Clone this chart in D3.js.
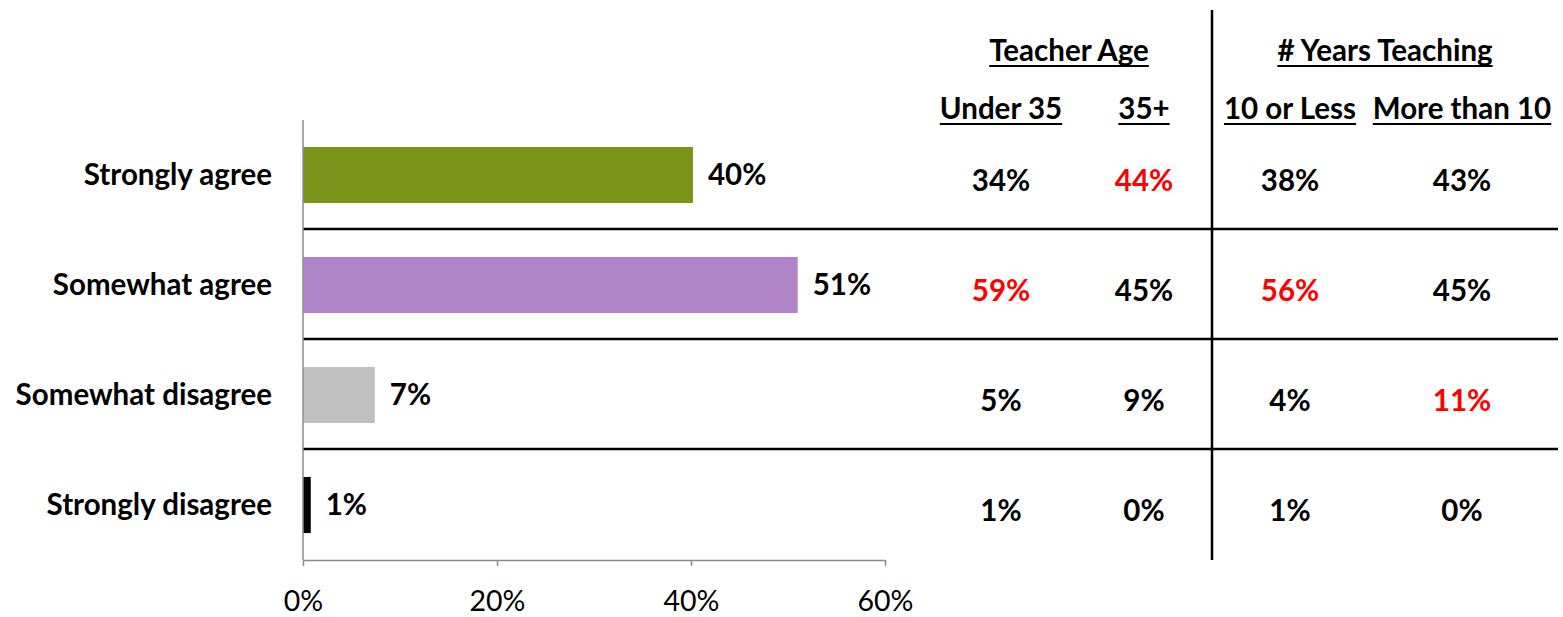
<!doctype html>
<html lang="en">
<head>
  <meta charset="utf-8">
  <title>Agreement by teacher age and years teaching</title>
  <script src="https://cdn.jsdelivr.net/npm/d3@7/dist/d3.min.js"></script>
  <style type="text/css">
    body { margin: 0; background: #fff; }
    text { font-family: "Lato", "Open Sans", sans-serif; }
    .cat, .lbl, .cell, .head { font-weight: bold; fill: #000; }
    .tick-label { fill: #000; }
  </style>
</head>
<body>
  <div id="container"></div>
<script type="text/javascript">

  // Chart data
  var categories = ["Strongly agree", "Somewhat agree", "Somewhat disagree", "Strongly disagree"];
  var values = [40.2, 51, 7.4, 0.8];
  var colors = ["#7a9318", "#b084c8", "#c0c0c0", "#000000"];
  var xTicks = [0, 20, 40, 60];

  // Table data
  var groups = ["Teacher Age", "# Years Teaching"];
  var columns = ["Under 35", "35+", "10 or Less", "More than 10"];
  var under35 = [34, 59, 5, 1];
  var over35 = [44, 45, 9, 0];
  var tenOrLess = [38, 56, 4, 1];
  var moreThan10 = [43, 45, 11, 0];
  // cells shown in red, one row per category
  var highlight = [
    [false, true, false, false],
    [true, false, true, false],
    [false, false, false, true],
    [false, false, false, false]
  ];

  var width = 1563, height = 617;
  var fs = "29.5px";

  var svg = d3.select("#container")
    .append("svg")
    .attr("width", width)
    .attr("height", height);

  var x = d3.scaleLinear().domain([0, 60]).range([303, 885]);
  var y = d3.scaleBand().domain(categories).range([120, 560]).paddingInner(0.49).paddingOuter(0.245);
  var rows = d3.scaleBand().domain(categories).range([120, 560]);

  // Row separator lines
  svg.selectAll(".sep")
    .data(categories.slice(1))
    .enter()
    .append("line")
    .attr("x1", 303).attr("x2", 1558)
    .attr("y1", function(d) { return rows(d) - 1; })
    .attr("y2", function(d) { return rows(d) - 1; })
    .attr("stroke", "#000")
    .attr("stroke-width", 2.5);

  // Bars
  svg.selectAll(".bar")
    .data(categories)
    .enter()
    .append("rect")
    .attr("x", x(0))
    .attr("y", function(d) { return y(d); })
    .attr("width", function(d, i) { return x(values[i]) - x(0); })
    .attr("height", y.bandwidth())
    .attr("fill", function(d, i) { return colors[i]; });

  // Axes
  var xAxis = d3.axisBottom(x)
    .tickValues(xTicks)
    .tickFormat(function(d) { return d + "%"; })
    .tickSize(6)
    .tickSizeOuter(0);
  var gx = svg.append("g")
    .attr("transform", "translate(0,560)")
    .call(xAxis);
  gx.select(".domain").attr("stroke", "#8c8c8c").attr("stroke-width", 1.5);
  gx.selectAll(".tick line").attr("stroke", "#8c8c8c").attr("stroke-width", 1.5);
  gx.selectAll(".tick text")
    .attr("class", "tick-label")
    .attr("y", 31)
    .attr("dy", "0.71em")
    .style("font-size", "28.5px")
    .style("font-family", "Lato, sans-serif");

  svg.append("line")
    .attr("x1", x(0)).attr("x2", x(0))
    .attr("y1", 120).attr("y2", 560)
    .attr("stroke", "#8c8c8c")
    .attr("stroke-width", 1.5);

  // Category labels
  svg.selectAll(".cat")
    .data(categories)
    .enter()
    .append("text")
    .attr("class", "cat")
    .attr("x", 272)
    .attr("y", function(d) { return rows(d) + rows.bandwidth() / 2; })
    .attr("dy", "0.35em")
    .attr("text-anchor", "end")
    .style("font-size", fs)
    .text(function(d) { return d; });

  // Bar value labels
  svg.selectAll(".lbl")
    .data(categories)
    .enter()
    .append("text")
    .attr("class", "lbl")
    .attr("x", function(d, i) { return x(values[i]) + 15; })
    .attr("y", function(d) { return rows(d) + rows.bandwidth() / 2; })
    .attr("dy", "0.35em")
    .style("font-size", fs)
    .text(function(d, i) { return Math.round(values[i]) + "%"; });

  // Table
  var colX = [1001, 1144, 1290, 1462];
  var series = [under35, over35, tenOrLess, moreThan10];

  series.forEach(function(col, c) {
    svg.selectAll(".cell" + c)
      .data(categories)
      .enter()
      .append("text")
      .attr("class", "cell")
      .attr("x", colX[c])
      .attr("y", function(d) { return rows(d) + rows.bandwidth() / 2 + 6; })
      .attr("dy", "0.35em")
      .attr("text-anchor", "middle")
      .style("font-size", fs)
      .style("fill", function(d, i) { return highlight[i][c] ? "#ff0000" : "#000"; })
      .text(function(d, i) { return col[i] + "%"; });
  });

  // Headers (underlined)
  function header(txt, cx, by) {
    var t = svg.append("text")
      .attr("class", "head")
      .attr("x", cx)
      .attr("y", by)
      .attr("text-anchor", "middle")
      .style("font-size", fs)
      .text(txt);
    var w = t.node().getComputedTextLength();
    svg.append("line")
      .attr("x1", cx - w / 2).attr("x2", cx + w / 2)
      .attr("y1", by + 5).attr("y2", by + 5)
      .attr("stroke", "#000")
      .attr("stroke-width", 2);
  }
  header(groups[0], 1069, 61);
  header(groups[1], 1385, 61);
  columns.forEach(function(c, i) { header(c, colX[i], 119); });

  // Table divider
  svg.append("line")
    .attr("x1", 1212).attr("x2", 1212)
    .attr("y1", 10).attr("y2", 560)
    .attr("stroke", "#000")
    .attr("stroke-width", 2.5);

</script>
</body>
</html>
